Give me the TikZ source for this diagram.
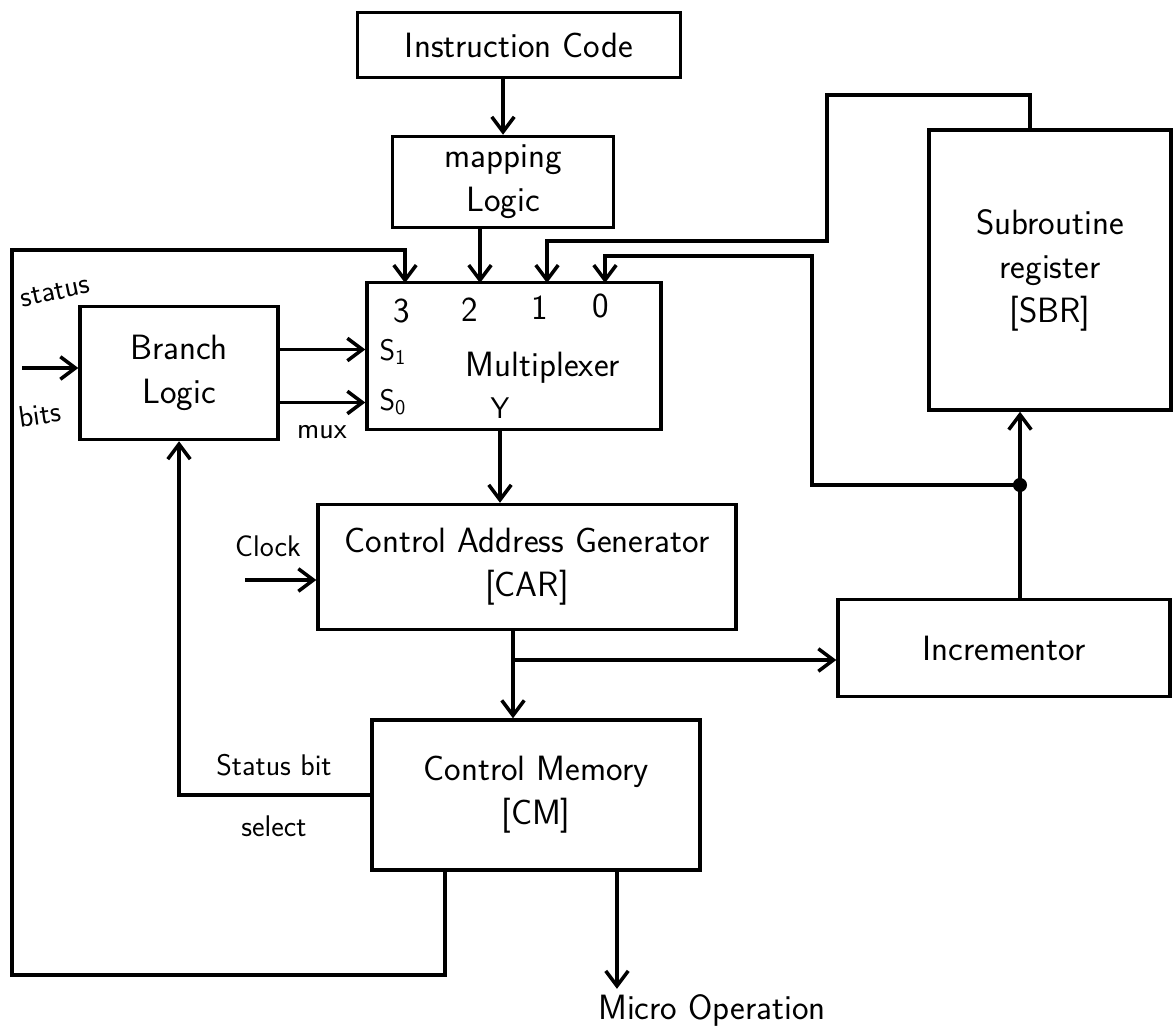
\documentclass[tikz,border=0pt]{standalone}
\usepackage{fontspec}
\usetikzlibrary{arrows.meta}
\begin{document}
\begin{tikzpicture}[x=0.02cm, y=-0.02cm,
    blk/.style={draw, line width=2pt, align=center, inner sep=2pt, font=\sffamily\fontsize{20}{25}\selectfont},
    lbl/.style={font=\sffamily\fontsize{17}{20}\selectfont, inner sep=1pt},
    arr/.style={line width=2pt, -{Straight Barb[length=3mm,width=4.5mm]}},
    wire/.style={line width=2pt}]
    \useasboundingbox (0,0) rectangle (1173,1034);
    \node[blk, minimum width=6.46cm, minimum height=1.3cm] (instr) at (519,45) {Instruction Code};
    \node[blk, minimum width=4.42cm, minimum height=1.82cm] (maplog) at (503,182) {mapping\\Logic};
    \node[blk, minimum width=4.84cm, minimum height=5.6cm] (sbr) at (1050,270) {Subroutine\\register\\{[SBR]}};
    \node[blk, minimum width=3.96cm, minimum height=2.66cm] (branch) at (179,373) {Branch\\Logic};
    \node[blk, minimum width=5.88cm, minimum height=2.94cm] (mux) at (514,356) {};
    \node[blk, minimum width=8.36cm, minimum height=2.5cm] (car) at (527,567) {Control Address Generator\\{[CAR]}};
    \node[blk, minimum width=6.64cm, minimum height=1.94cm] (incr) at (1004,648) {Incrementor};
    \node[blk, minimum width=6.56cm, minimum height=3cm] (cm) at (536,795) {Control Memory\\{[CM]}};
    \node[blk, draw=none] (uop) at (712,1010) {Micro Operation};
    \node[blk, draw=none] (muxname) at (543,368) {Multiplexer};
    \node[blk, draw=none, inner sep=1pt] (i3) at (402,311) {3};
    \node[blk, draw=none, inner sep=1pt] (i2) at (470,310) {2};
    \node[blk, draw=none, inner sep=1pt] (i1) at (540,308) {1};
    \node[blk, draw=none, inner sep=1pt] (i0) at (601,306) {0};
    \node[lbl] (s1) at (393,352) {S\textsubscript{1}};
    \node[lbl] (s0) at (393,402) {S\textsubscript{0}};
    \node[lbl] (yout) at (500,408) {Y};
    \node[lbl] (muxsel) at (322,432) {mux};
    \node[lbl, rotate=12] (stat) at (55,292) {status};
    \node[lbl, rotate=8] (bits) at (40,414) {bits};
    \node[lbl] (clock) at (268,546) {Clock};
    \node[lbl] (stbit) at (274,765) {Status bit};
    \node[lbl] (sel) at (274,826) {select};
    \coordinate (m3) at (405,283);
    \coordinate (m2) at (480,283);
    \coordinate (m1) at (547,283);
    \coordinate (m0) at (605,283);
    \coordinate (jn) at (1020,485);
    \coordinate (tap) at (513,660);
    \coordinate (sb) at (22,368);
    \coordinate (clk) at (245,580);
    \coordinate (cmback) at ([xshift=-1.82cm]cm.south);
    \coordinate (cmout) at ([xshift=1.62cm]cm.south);
    \coordinate (sel1) at ([yshift=0.47cm]branch.east);
    \coordinate (sel0) at ([yshift=-0.59cm]branch.east);
    \draw[arr] (instr.south -| maplog.north) -- (maplog.north);
    \draw[arr] (maplog.south -| m2) -- (m2);
    \draw[arr] (mux.south -| yout) -- (car.north -| yout);
    \draw[wire] (car.south -| tap) -- (tap);
    \draw[arr] (tap) -- (cm.north -| tap);
    \draw[arr] (tap) -- (tap -| incr.west);
    \draw[arr] (incr.north -| jn) -- (sbr.south -| jn);
    \fill (jn) circle (4pt);
    \draw[arr] (jn) -| (812,256) -| (m0);
    \draw[arr] ([xshift=-0.4cm]sbr.north) |- (827,95) |- (547,241) -- (m1);
    \draw[arr] (cmback) |- (12,975) |- (405,250) -- (m3);
    \draw[arr] (cmout) -- (cmout |- uop.north);
    \draw[arr] (cm.west) -| (branch.south);
    \draw[arr] (sel1) -- (sel1 -| mux.west);
    \draw[arr] (sel0) -- (sel0 -| mux.west);
    \draw[arr] (sb) -- (sb -| branch.west);
    \draw[arr] (clk) -- (clk -| car.west);
\end{tikzpicture}
\end{document}
